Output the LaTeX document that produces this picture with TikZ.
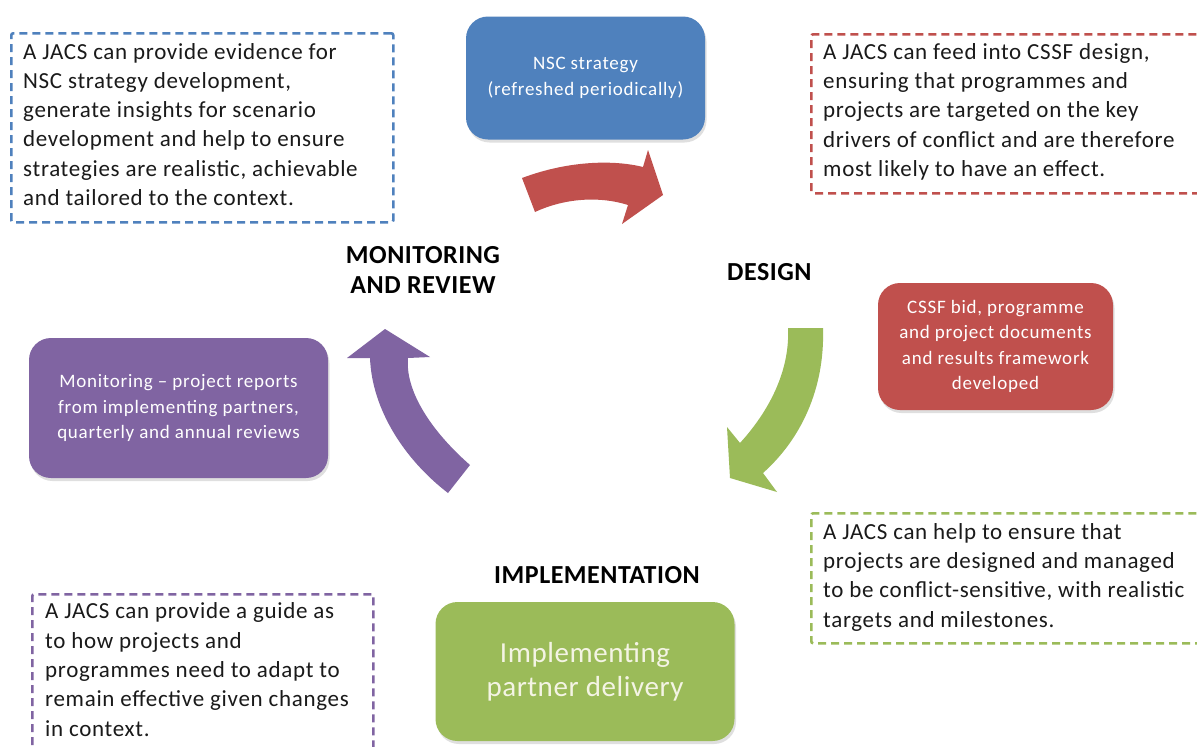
\documentclass[tikz,border=0pt]{standalone}
\usepackage{fontspec}
\setmainfont{Carlito}
\newfontfamily\bodyfont[LetterSpace=3]{Carlito}
\newfontfamily\boxfont[LetterSpace=4]{Carlito}
\newfontfamily\headfont[LetterSpace=2]{Carlito}
\newfontfamily\bigfont[LetterSpace=2]{Carlito}
\usetikzlibrary{shadows}
\definecolor{cblue}{HTML}{4F81BD}
\definecolor{cred}{HTML}{C0504D}
\definecolor{cgreen}{HTML}{9BBB59}
\definecolor{cpurple}{HTML}{8064A2}
\definecolor{ctext}{HTML}{1A1A1A}
\definecolor{ccream}{HTML}{F4F4E4}
\tikzset{
  frame/.style={draw=#1, line width=2.6pt, dash pattern=on 8pt off 5pt, rounded corners=2pt, anchor=north west, inner sep=0pt},
  body/.style={anchor=base west, align=left, inner sep=0pt, text=ctext, font=\bodyfont\fontsize{23}{29.3}\selectfont},
  rbox/.style={fill=#1, rounded corners=22pt, text=white, align=center, inner sep=0pt,
    drop shadow={shadow xshift=1.5pt, shadow yshift=-3pt, opacity=0.25},
    font=\boxfont\fontsize{19}{25.5}\selectfont},
  head/.style={anchor=base, align=center, inner sep=0pt, text=black, font=\headfont\bfseries\fontsize{26}{30}\selectfont},
}
\begin{document}
\begin{tikzpicture}[x=1pt,y=-1pt]
\useasboundingbox (0,0) rectangle (1197,747);
\clip (0,0) rectangle (1197,747);
\fill[white] (0,0) rectangle (1197,747);

% dashed frames
\node[frame=cblue, minimum width=382pt, minimum height=189pt] (fblue) at (10,32) {};
\node[frame=cred, minimum width=400pt, minimum height=159pt] (fred) at (810,33) {};
\node[frame=cgreen, minimum width=400pt, minimum height=130pt] (fgreen) at (810,512) {};
\node[frame=cpurple, minimum width=341pt, minimum height=200pt] (fpurple) at (31,593) {};

% frame texts (anchor = baseline of the last line)
\node[body] (tblue) at (23,205.5) {A JACS can provide evidence for\\NSC strategy development,\\generate insights for scenario\\development and help to ensure\\strategies are realistic, achievable\\and tailored to the context.};
\node[body] (tred) at (823,176.5) {A JACS can feed into CSSF design,\\ensuring that programmes and\\projects are targeted on the key\\drivers of conflict and are therefore\\most likely to have an effect.};
\node[body] (tgreen) at (823,627) {A JACS can help to ensure that\\projects are designed and managed\\to be conflict-sensitive, with realistic\\targets and milestones.};
\node[body] (tpurple) at (45,736) {A JACS can provide a guide as\\to how projects and\\programmes need to adapt to\\remain effective given changes\\in context.};

% rounded boxes
\node[rbox=cblue, minimum width=239pt, minimum height=123pt] (nsc) at (585.5,78) {NSC strategy\\(refreshed periodically)};
\node[rbox=cred, minimum width=235pt, minimum height=127pt] (cssf) at (995.5,346.5) {CSSF bid, programme\\and project documents\\and results framework\\developed};
\node[rbox=cpurple, minimum width=299pt, minimum height=140pt] (mon) at (178.5,408) {Monitoring – project reports\\from implementing partners,\\quarterly and annual reviews};
\node[rbox=cgreen, minimum width=299pt, minimum height=139pt, text=ccream, font=\bigfont\fontsize{29}{34}\selectfont] (impl) at (585,671.5) {Implementing\\partner delivery};

% headings
\node[head] (hmon) at (423,293) {MONITORING\\AND REVIEW};
\node[head, anchor=base west] (hdes) at (727,280) {DESIGN};
\node[head] (himp) at (597,583) {IMPLEMENTATION};

% curved arrows
\fill[cred] (522,178) .. controls (570,160) and (615,160) .. (643,167)
  -- (648,150) -- (663,195) -- (622,224) -- (628,205)
  .. controls (600,196) and (565,198) .. (535,212) -- cycle;
\fill[cgreen] (788,328) -- (823,328) .. controls (825,390) and (800,440) .. (763,473)
  -- (777,492) -- (730,478) -- (727,427) -- (740,443)
  .. controls (770,410) and (790,370) .. (788,328) -- cycle;
\fill[cpurple] (470,465) .. controls (430,430) and (405,390) .. (408,358)
  -- (430,357) -- (385,329) -- (347,358) -- (370,358)
  .. controls (372,410) and (405,460) .. (448,493) -- cycle;
\end{tikzpicture}
\end{document}
